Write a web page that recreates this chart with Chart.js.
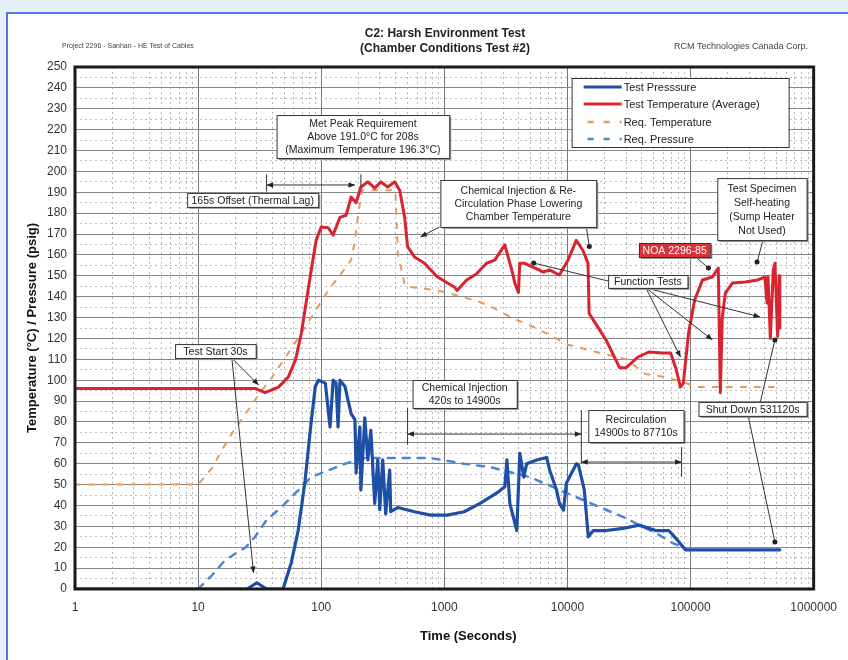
<!DOCTYPE html>
<html>
<head>
<meta charset="utf-8">
<script src="https://cdn.jsdelivr.net/npm/chart.js@4.4.1/dist/chart.umd.min.js"></script>
<style>
  html, body { margin: 0; padding: 0; }
  body { width: 848px; height: 660px; position: relative; overflow: hidden; background: #e9eff8;
         font-family: "Liberation Sans", Arial, sans-serif; }
  #frame { position: absolute; left: 6px; top: 12px; width: 842px; height: 648px; background: #fff;
           border-top: 2px solid #4d7be0; border-left: 2px solid #4d7be0; }
  #chart { position: absolute; left: 0; top: 0; }
  .hdr { position: absolute; color: #222; white-space: nowrap; }
  #title { left: 245px; width: 400px; top: 26px; text-align: center; font-weight: bold; font-size: 12px; line-height: 15px; }
  #leftNote { left: 62px; top: 42px; font-size: 7px; color: #444; }
  #rightNote { left: 600px; width: 208px; top: 41px; text-align: right; font-size: 9px; color: #444; }
</style>
</head>
<body>
<div id="frame"></div>
<canvas id="chart" width="848" height="660"></canvas>
<div class="hdr" id="title">C2: Harsh Environment Test<br>(Chamber Conditions Test #2)</div>
<div class="hdr" id="leftNote">Project 2296 - Sanhan - HE Test of Cables</div>
<div class="hdr" id="rightNote">RCM Technologies Canada Corp.</div>

<script>
// axis ticks
const xTickLabels = [1, 10, 100, 1000, 10000, 100000, 1000000];
const yTickLabels = [0, 10, 20, 30, 40, 50, 60, 70, 80, 90, 100, 110, 120, 130, 140, 150, 160, 170, 180, 190, 200, 210, 220, 230, 240, 250];

// Test Pressure (psig)
const pressTime = [1, 25, 30, 36, 49, 57, 65, 74, 81.5, 89.5, 95, 108, 118, 125, 132, 137, 142, 156, 165, 175, 188, 192, 206, 210, 226, 239, 253, 272, 288, 299, 316, 334, 360, 367, 418, 573, 771, 1057, 1449, 1952, 2674, 3103, 3222, 3405, 3880, 4103, 4418, 4670, 5623, 6776, 7164, 8155, 8614, 9290, 9815, 11830, 12270, 12970, 13710, 14770, 16220, 20630, 28300, 38100, 52200, 66500, 75700, 91200, 181200, 484600, 531120];
const pressValue = [0, 0, 3, 0, 0, 12.4, 28, 52, 76, 97, 100, 98.6, 77.6, 100, 98.6, 77.6, 100, 97, 90.5, 84, 81, 55.6, 77.6, 47.4, 82, 61.8, 76, 41, 61.8, 38, 61.8, 36, 57, 37, 39, 37, 35.4, 35.4, 37, 41, 46, 49, 61.8, 41, 28, 65, 53.6, 60, 61.8, 63, 57, 47.4, 41, 37.8, 50.8, 60, 59.4, 53.6, 47.4, 25, 28, 28, 29, 30.6, 28, 28, 24.4, 18.7, 18.7, 18.7, 18.7];

// Test Temperature, average (°C)
const tempTime = [1, 25, 29.4, 35, 45, 54, 62, 69, 76, 83, 91, 100, 114, 125, 142, 159, 175, 192, 210, 239, 272, 305, 347, 395, 434, 476, 503, 573, 690, 880, 1205, 1270, 1520, 1830, 2200, 2570, 3100, 3530, 3740, 4000, 4100, 4500, 5300, 6400, 7160, 8600, 10100, 11800, 13400, 14700, 15000, 17000, 20700, 26500, 30000, 37300, 45800, 59600, 68900, 75700, 82800, 87400, 96400, 108000, 125000, 150000, 168000, 174600, 181000, 192000, 219000, 278000, 350000, 402000, 418000, 426000, 445000, 470000, 485000, 510000, 525000, 531120];
const tempValue = [96, 96, 96, 94, 96.7, 101.5, 110, 122.6, 138.4, 152.8, 167, 173.4, 173, 169.5, 178, 179, 187.7, 185, 192.5, 195, 192, 195, 192.5, 195, 191, 178, 164, 159, 156, 149.4, 144.6, 143, 148, 151, 156, 157.5, 164.8, 152.8, 146.5, 142, 156, 156, 154, 151.8, 152.8, 150.4, 157.5, 167, 162, 156, 132, 127, 119, 106, 106, 111, 113.5, 113, 113, 106, 96.7, 98.6, 122.6, 138.4, 148, 149.4, 153.7, 94, 130, 141.8, 146.5, 147, 148, 149.4, 137, 149.4, 120, 152.8, 156, 121, 150, 125];

// Required Temperature (°C)
const reqTempTime = [1, 10, 13, 15.6, 19.5, 24.4, 31, 40, 60, 85, 114, 145, 175, 188, 198, 215, 400, 420, 480, 880, 1850, 2500, 3500, 5300, 7200, 10100, 14700, 30000, 43000, 63000, 117000, 531120];
const reqTempValue = [50, 50, 58, 66.6, 76, 84, 93, 101.5, 117, 131, 143, 151, 157.5, 167, 178, 191, 191, 160, 145, 143, 138, 134.6, 130, 125.5, 121.6, 117, 114.5, 110, 103, 101.5, 96.7, 96.7];

// Required Pressure (psig)
const reqPressTime = [10, 13, 16.6, 24.4, 29, 36, 47, 62, 83, 156, 226, 418, 771, 1449, 2350, 4940, 17000, 28300, 52200, 71600, 86000, 91200];
const reqPressValue = [0, 6.7, 13.9, 20, 25, 33, 39, 46, 53.6, 60, 62.7, 62.7, 62.7, 60, 58.4, 53.6, 40, 34.5, 26.8, 22, 20, 19];

const seriesLabels = ['Test Presssure', 'Test Temperature (Average)', 'Req. Temperature', 'Req. Pressure'];
const seriesColors = ['#1d4fa6', '#d9232e', '#e59a5a', '#4d86d0'];

// callouts, placed in data units (time, value)
const annotationBoxes = [
  { t1: 43.4, t2: 1097, v1: 227, v2: 206.4, lines: ['Met Peak Requirement', 'Above 191.0°C for 208s', '(Maximum Temperature 196.3°C)'] },
  { t1: 8.15, t2: 94.6, v1: 189.7, v2: 183.0, lines: ['165s Offset (Thermal Lag)'] },
  { t1: 929, t2: 17150, v1: 195.9, v2: 173.4, lines: ['Chemical Injection & Re-', 'Circulation Phase Lowering', 'Chamber Temperature'] },
  { t1: 165000, t2: 878000, v1: 196.8, v2: 167.1, lines: ['Test Specimen', 'Self-heating', '(Sump Heater', 'Not Used)'] },
  { t1: 38100, t2: 145000, v1: 165.7, v2: 159, lines: ['NOA 2296-85'], fill: '#d4343a', color: '#fff' },
  { t1: 21400, t2: 94600, v1: 150.4, v2: 144.2, lines: ['Function Tests'] },
  { t1: 6.5, t2: 29.4, v1: 117.3, v2: 110.6, lines: ['Test Start 30s'] },
  { t1: 552, t2: 3880, v1: 100.1, v2: 86.7, lines: ['Chemical Injection', '420s to 14900s'] },
  { t1: 14770, t2: 87900, v1: 85.7, v2: 70.4, lines: ['Recirculation', '14900s to 87710s'] },
  { t1: 116000, t2: 878000, v1: 89.6, v2: 82.9, lines: ['Shut Down 531120s'] }
];

const annotationLines = [
  { from: [36, 193.5], to: [188, 193.5], head: 'both' },
  { from: [36, 198.6], to: [36, 190.4] },
  { from: [210, 198.6], to: [210, 192.8] },
  { from: [912, 173.4], to: [640, 168.6], head: 'arrow' },
  { from: [14230, 173.4], to: [15050, 164], head: 'dot' },
  { from: [388000, 167.1], to: [347000, 156.6], head: 'dot' },
  { from: [110000, 159], to: [139800, 153.7], head: 'dot' },
  { from: [43400, 144.2], to: [83000, 111.1], head: 'arrow' },
  { from: [43400, 144.2], to: [150400, 119.3], head: 'arrow' },
  { from: [43400, 144.2], to: [367000, 130.3], head: 'arrow' },
  { from: [21400, 147.5], to: [5320, 156.1], head: 'dot' },
  { from: [18.8, 110.6], to: [31, 97.7], head: 'arrow' },
  { from: [18.8, 110.6], to: [28.2, 7.7], head: 'arrow' },
  { from: [503, 74.2], to: [12970, 74.2], head: 'both' },
  { from: [503, 86.7], to: [503, 69] },
  { from: [12970, 85.7], to: [12970, 60.3] },
  { from: [12970, 60.8], to: [84600, 60.8], head: 'both' },
  { from: [84600, 68], to: [84600, 53.6] },
  { from: [347000, 82.9], to: [484600, 119.3], head: 'dot' },
  { from: [294000, 82.9], to: [484600, 22.5], head: 'dot' }
];

const FONT = '"Liberation Sans", Arial, sans-serif';

function pts(ts, vs) {
  return ts.map((t, i) => ({ x: t, y: vs[i] }));
}

function toPx(chart, p) {
  return [chart.scales.x.getPixelForValue(p[0]), chart.scales.y.getPixelForValue(p[1])];
}

function drawHead(ctx, x1, y1, x2, y2) {
  const a = Math.atan2(y2 - y1, x2 - x1);
  const s = 7;
  ctx.beginPath();
  ctx.moveTo(x2, y2);
  ctx.lineTo(x2 - s * Math.cos(a - 0.4), y2 - s * Math.sin(a - 0.4));
  ctx.lineTo(x2 - s * Math.cos(a + 0.4), y2 - s * Math.sin(a + 0.4));
  ctx.closePath();
  ctx.fill();
}

function drawLine(ctx, chart, l) {
  const [x1, y1] = toPx(chart, l.from);
  const [x2, y2] = toPx(chart, l.to);
  ctx.strokeStyle = '#333';
  ctx.fillStyle = '#222';
  ctx.lineWidth = 1;
  ctx.setLineDash([]);
  ctx.beginPath();
  ctx.moveTo(x1, y1);
  ctx.lineTo(x2, y2);
  ctx.stroke();
  if (l.head === 'arrow' || l.head === 'both') drawHead(ctx, x1, y1, x2, y2);
  if (l.head === 'both') drawHead(ctx, x2, y2, x1, y1);
  if (l.head === 'dot') {
    ctx.beginPath();
    ctx.arc(x2, y2, 2.5, 0, Math.PI * 2);
    ctx.fill();
  }
}

function drawBox(ctx, chart, b) {
  const [l, t] = toPx(chart, [b.t1, b.v1]);
  const [r, bt] = toPx(chart, [b.t2, b.v2]);
  ctx.setLineDash([]);
  ctx.fillStyle = '#9a9a9a';
  ctx.fillRect(l + 2, t + 2, r - l, bt - t);
  ctx.fillStyle = b.fill || '#fff';
  ctx.fillRect(l, t, r - l, bt - t);
  ctx.strokeStyle = '#333';
  ctx.lineWidth = 1;
  ctx.strokeRect(l + 0.5, t + 0.5, r - l, bt - t);
  ctx.fillStyle = b.color || '#222';
  ctx.font = '10.5px ' + FONT;
  ctx.textAlign = 'center';
  ctx.textBaseline = 'middle';
  const lh = b.lines.length > 3 ? 14 : 13;
  const cy = (t + bt) / 2 - (b.lines.length - 1) * lh / 2;
  b.lines.forEach((s, i) => ctx.fillText(s, (l + r) / 2, cy + i * lh + 1));
}

function drawLegend(ctx, chart) {
  const { right, top } = chart.chartArea;
  const l = right - 242, t = top + 11, w = 217, h = 69;
  ctx.setLineDash([]);
  ctx.fillStyle = '#fff';
  ctx.fillRect(l, t, w, h);
  ctx.strokeStyle = '#333';
  ctx.lineWidth = 1;
  ctx.strokeRect(l + 0.5, t + 0.5, w, h);
  ctx.font = '11px ' + FONT;
  ctx.textAlign = 'left';
  ctx.textBaseline = 'middle';
  const rows = [9, 26, 44, 61];
  seriesLabels.forEach((lab, i) => {
    const y = t + rows[i];
    ctx.strokeStyle = seriesColors[i];
    ctx.lineWidth = i < 2 ? 3 : 2.5;
    ctx.setLineDash(i < 2 ? [] : [6, 10]);
    ctx.beginPath();
    ctx.moveTo(l + (i < 2 ? 12 : 16), y);
    ctx.lineTo(l + 50, y);
    ctx.stroke();
    ctx.setLineDash([]);
    ctx.fillStyle = '#222';
    ctx.fillText(lab, l + 52, y + 1);
  });
}

const overlayPlugin = {
  id: 'overlay',
  afterDatasetsDraw(chart) {
    const ctx = chart.ctx;
    const { left, top, right, bottom } = chart.chartArea;
    ctx.save();
    annotationLines.forEach(l => drawLine(ctx, chart, l));
    annotationBoxes.forEach(b => drawBox(ctx, chart, b));
    drawLegend(ctx, chart);
    ctx.setLineDash([]);
    ctx.strokeStyle = '#1a1a1a';
    ctx.lineWidth = 3;
    ctx.strokeRect(left, top, right - left, bottom - top);
    ctx.fillStyle = '#111';
    ctx.font = 'bold 13px ' + FONT;
    ctx.textAlign = 'center';
    ctx.textBaseline = 'middle';
    ctx.fillText('Time (Seconds)', (left + right) / 2 + 24, bottom + 47);
    ctx.restore();
  }
};

function isDecade(v) {
  return xTickLabels.includes(v);
}

const ctx = document.getElementById('chart').getContext('2d');
new Chart(ctx, {
  type: 'line',
  data: {
    datasets: [
      { label: seriesLabels[0], data: pts(pressTime, pressValue), borderColor: seriesColors[0], borderWidth: 3.2 },
      { label: seriesLabels[1], data: pts(tempTime, tempValue), borderColor: seriesColors[1], borderWidth: 3 },
      { label: seriesLabels[2], data: pts(reqTempTime, reqTempValue), borderColor: seriesColors[2], borderWidth: 2, borderDash: [5, 9] },
      { label: seriesLabels[3], data: pts(reqPressTime, reqPressValue), borderColor: seriesColors[3], borderWidth: 2.5, borderDash: [7, 8] }
    ]
  },
  options: {
    responsive: false,
    animation: false,
    layout: { padding: { left: 0, top: 67, right: 28, bottom: 0 } },
    elements: {
      point: { radius: 0 },
      line: { tension: 0, fill: false, borderJoinStyle: 'round', borderCapStyle: 'round' }
    },
    plugins: { legend: { display: false }, tooltip: { enabled: false }, title: { display: false } },
    scales: {
      x: {
        type: 'logarithmic',
        min: 1,
        max: 1000000,
        afterBuildTicks: s => {
          const t = [];
          xTickLabels.forEach(d => {
            for (let m = 1; m < 10; m++) {
              if (d * m <= 1000000) t.push({ value: d * m });
            }
          });
          s.ticks = t;
        },
        afterFit: s => { s.height = 71; },
        ticks: {
          autoSkip: false,
          maxRotation: 0,
          padding: 11,
          color: '#333',
          font: { family: FONT, size: 12 },
          callback: v => isDecade(v) ? String(v) : ''
        },
        grid: {
          drawTicks: false,
          color: c => (c.tick && isDecade(c.tick.value)) ? '#777' : '#b8b8b8',
          lineWidth: 1
        },
        border: { display: false, dash: c => (c.tick && isDecade(c.tick.value)) ? [] : [2, 3] }
      },
      y: {
        type: 'linear',
        min: 0,
        max: 250,
        afterBuildTicks: s => {
          const t = [];
          yTickLabels.forEach(v => {
            t.push({ value: v });
            if (v < 250) t.push({ value: v + 5 });
          });
          s.ticks = t;
        },
        afterFit: s => { s.width = 75; },
        ticks: {
          autoSkip: false,
          padding: 8,
          color: '#333',
          font: { family: FONT, size: 12 },
          callback: v => yTickLabels.includes(v) ? String(v) : ''
        },
        grid: {
          drawTicks: false,
          color: c => (c.tick && c.tick.value % 10 === 0) ? '#888' : '#bcbcbc',
          lineWidth: 1
        },
        border: { display: false, dash: c => (c.tick && c.tick.value % 10 === 0) ? [] : [2, 3] },
        title: {
          display: true,
          text: 'Temperature (°C) / Pressure (psig)',
          color: '#111',
          font: { family: FONT, size: 13, weight: 'bold' },
          padding: { top: 25, bottom: 0 }
        }
      }
    }
  },
  plugins: [overlayPlugin]
});
</script>
</body>
</html>
